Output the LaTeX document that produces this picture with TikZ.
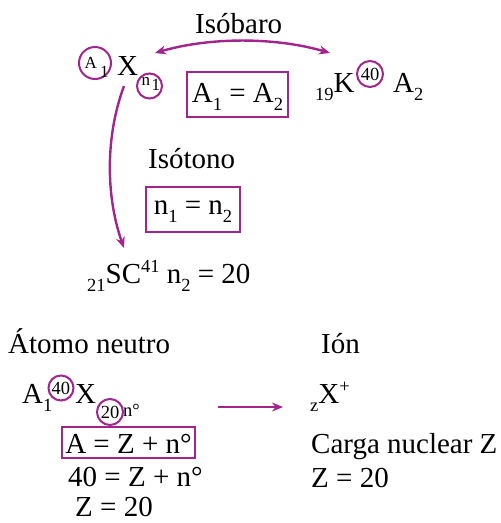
\documentclass[tikz,border=0pt]{standalone}
\usepackage{fontspec}
\setmainfont{Liberation Serif}
\usetikzlibrary{arrows.meta}
\definecolor{mag}{RGB}{163,36,143}
\newcommand\lsub[1]{\raisebox{-8pt}{\fontsize{18.5}{18}\selectfont #1}}
\newcommand\hsup[1]{\raisebox{11pt}{\fontsize{18.5}{18}\selectfont #1}}
\begin{document}
\begin{tikzpicture}[x=1pt,y=-1pt,
  every node/.style={font=\fontsize{29}{31}\selectfont, inner sep=0pt},
  txt/.style={anchor=base west},
  small/.style={font=\fontsize{18.5}{18}\selectfont},
  tiny/.style={font=\fontsize{17}{17}\selectfont},
  ring/.style={circle, draw=mag, line width=2pt, inner sep=0pt},
  eqbox/.style={draw=mag, line width=2.4pt, rectangle, align=center},
  conn/.style={draw=mag, line width=2.4pt, -{Stealth[length=11pt,width=9pt]}},
  conn2/.style={draw=mag, line width=2.4pt, {Stealth[length=11pt,width=9pt]}-{Stealth[length=11pt,width=9pt]}}]
\useasboundingbox (0,0) rectangle (501,523);

% ---- top part ----
\node[txt] (isob) at (195,33) {Isóbaro};

% left nuclide A1 X n1
\node[ring, minimum size=32pt] (cA) at (95,63) {};
\node[txt, tiny] (tA) at (84.5,68) {A};
\node[txt, tiny] (tA1) at (100,77) {1};
\node[txt] (X1) at (117,75) {X};
\node[ring, minimum size=25pt] (cn) at (149.5,86) {};
\node[txt, tiny] (tn) at (141.5,85) {n};
\node[txt, tiny] (tn1) at (151.5,90) {1};

% box A1 = A2
\node[eqbox, minimum width=101pt, minimum height=45pt, text height=20pt, text depth=5pt] (b1) at (237.5,94.5) {A\lsub{1} = A\lsub{2}};

% right nuclide 19K 40 A2
\node[txt] (K) at (315,92) {\lsub{19}K};
\node[ring, minimum size=26pt, small] (c40) at (370,74) {40};
\node[txt] (A2) at (393,92) {A\lsub{2}};

% isobar arrow
\coordinate (ia) at (155,53);
\coordinate (ib) at (330,53);
\draw[conn2] (ia) .. controls (210,37) and (275,37) .. (ib);

% isotone
\node[txt] (isot) at (148,168) {Isótono};
\node[eqbox, minimum width=94pt, minimum height=45pt, text height=20pt, text depth=11pt] (b2) at (193,209.5) {n\lsub{1} = n\lsub{2}};

\node[txt] (Sc) at (87,283) {\lsub{21}SC\hsup{41} n\lsub{2} = 20};

\coordinate (ca) at (124,86);
\coordinate (cb) at (124,248);
\draw[conn] (ca) .. controls (104,140) and (107,200) .. (cb);

% ---- bottom part ----
\node[txt] (neu) at (8,353) {Átomo neutro};
\node[txt] (ion) at (321,353) {Ión};

\node[txt] (A0) at (22,403) {A\lsub{1}};
\node[ring, minimum size=25pt, small] (c40b) at (61,388) {40};
\node[txt] (X2) at (75,403) {X};
\node[ring, minimum size=26pt, small] (c20) at (110,412) {20};
\node[txt, small] (no) at (123,416) {n°};

\coordinate (aa) at (218,407);
\coordinate (ab) at (283,407);
\draw[conn] (aa) -- (ab);

\node[txt] (Xp) at (310,403) {\lsub{z}X\hsup{+}};

\node[eqbox, minimum width=133pt, minimum height=31pt, text height=21pt, text depth=0pt] (b3) at (128.5,442.5) {A = Z + n°};
\node[txt] (e2) at (68,486) {40 = Z + n°};
\node[txt] (e3) at (75,516) {Z = 20};

\node[txt] (cg) at (311,453) {Carga nuclear Z};
\node[txt] (z20) at (311,487) {Z = 20};
\end{tikzpicture}
\end{document}
